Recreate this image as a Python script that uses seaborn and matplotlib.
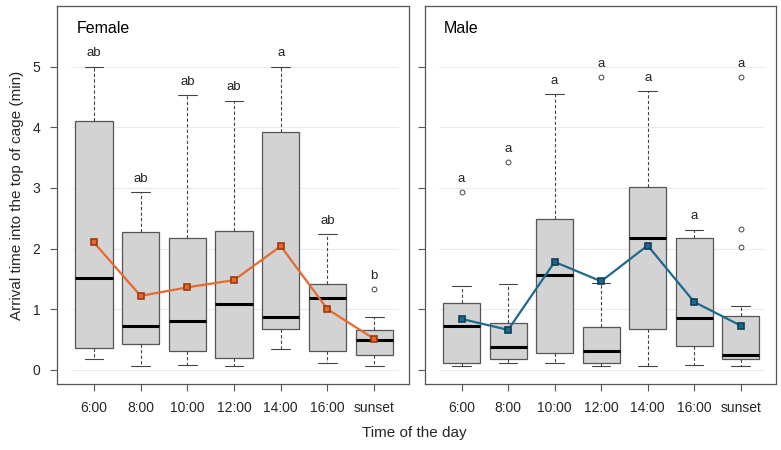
import matplotlib
matplotlib.use("Agg")
import matplotlib.pyplot as plt
import seaborn as sns

sns.set_theme(style="white")
plt.rcParams["font.family"] = ["Liberation Sans", "DejaVu Sans"]

# Data (minutes)
times = ["6:00", "8:00", "10:00", "12:00", "14:00", "16:00", "sunset"]

female_whislo = [0.18, 0.07, 0.08, 0.07, 0.34, 0.12, 0.07]
female_q1 = [0.36, 0.42, 0.31, 0.19, 0.67, 0.31, 0.24]
female_med = [1.51, 0.73, 0.81, 1.09, 0.88, 1.19, 0.50]
female_q3 = [4.10, 2.28, 2.17, 2.29, 3.92, 1.42, 0.66]
female_whishi = [5.00, 2.93, 4.53, 4.44, 5.00, 2.24, 0.88]
female_fliers = [[], [], [], [], [], [], [1.33]]
female_mean = [2.10, 1.22, 1.36, 1.48, 2.04, 1.00, 0.51]
female_letters = ["ab", "ab", "ab", "ab", "a", "ab", "b"]

male_whislo = [0.06, 0.12, 0.12, 0.07, 0.07, 0.08, 0.06]
male_q1 = [0.11, 0.18, 0.28, 0.12, 0.68, 0.39, 0.18]
male_med = [0.72, 0.37, 1.57, 0.31, 2.17, 0.86, 0.25]
male_q3 = [1.11, 0.78, 2.48, 0.71, 3.02, 2.18, 0.89]
male_whishi = [1.39, 1.41, 4.54, 1.43, 4.60, 2.31, 1.05]
male_fliers = [[2.93], [3.42], [], [4.82], [], [], [4.83, 2.32, 2.03]]
male_mean = [0.84, 0.66, 1.78, 1.46, 2.05, 1.12, 0.73]
male_letters = ["a", "a", "a", "a", "a", "a", "a"]

fig = plt.figure(figsize=(7.81, 4.5), dpi=100)
ax1 = fig.add_axes([0.073, 0.147, 0.451, 0.84])
ax2 = fig.add_axes([0.544, 0.147, 0.449, 0.84])

panels = [
    (ax1, "Female", female_whislo, female_q1, female_med, female_q3, female_whishi,
     female_fliers, female_mean, female_letters, "#E8692E", "#9A3A10"),
    (ax2, "Male", male_whislo, male_q1, male_med, male_q3, male_whishi,
     male_fliers, male_mean, male_letters, "#1D6A8C", "#0F3F57"),
]

for ax, title, wlo, q1, med, q3, whi, fl, mean, letters, col, mcol in panels:
    stats = []
    for i in range(len(times)):
        stats.append(dict(whislo=wlo[i], q1=q1[i], med=med[i], q3=q3[i],
                          whishi=whi[i], fliers=fl[i], label=times[i]))
    # faint reference lines
    for yv in range(6):
        ax.plot([-0.48, 6.5], [yv, yv], color="#EBEBEB", lw=0.8, zorder=0)
    ax.bxp(stats, positions=range(len(times)), widths=0.8, patch_artist=True,
           boxprops=dict(facecolor="#D3D3D3", edgecolor="#555555", linewidth=0.9),
           medianprops=dict(color="black", linewidth=2.2),
           whiskerprops=dict(color="#444444", linewidth=0.8, linestyle=(0, (3, 2))),
           capprops=dict(color="#444444", linewidth=0.8),
           flierprops=dict(marker="o", markersize=3.5, markerfacecolor="none",
                           markeredgecolor="#444444", markeredgewidth=0.7),
           capwidths=0.4, zorder=2)
    sns.pointplot(x=times, y=mean, ax=ax, color=col, markers="s",
                  linewidth=1.6, markersize=4, errorbar=None,
                  markeredgecolor=mcol, zorder=5)
    for i, lab in enumerate(letters):
        top = max([whi[i]] + fl[i])
        ax.text(i, top + 0.12, lab, ha="center", va="bottom", fontsize=9.5,
                color="#222222")
    ax.text(0.055, 0.94, title, transform=ax.transAxes, fontsize=11.5,
            color="black", ha="left", va="center")
    ax.set_xlim(-0.79, 6.75)
    ax.set_ylim(-0.23, 6.0)
    ax.set_yticks(range(6))
    ax.set_xticks(range(len(times)))
    ax.set_xticklabels(times, fontsize=10)
    ax.set_xlabel("")
    ax.set_ylabel("")
    ax.tick_params(axis="both", direction="out", length=5, width=0.8,
                   color="#555555", left=True, bottom=True, labelsize=10,
                   pad=7)
    for sp in ax.spines.values():
        sp.set_color("#555555")
        sp.set_linewidth(0.9)

ax1.set_yticklabels([str(v) for v in range(6)], fontsize=10)
ax2.set_yticklabels([])
ax2.tick_params(axis="y", labelleft=False)

fig.text(0.022, 0.566, "Arrival time into the top of cage (min)", rotation=90,
         ha="center", va="center", fontsize=11)
fig.text(0.53, 0.038, "Time of the day", ha="center", va="center", fontsize=11)

fig.savefig("out.png", dpi=100)
